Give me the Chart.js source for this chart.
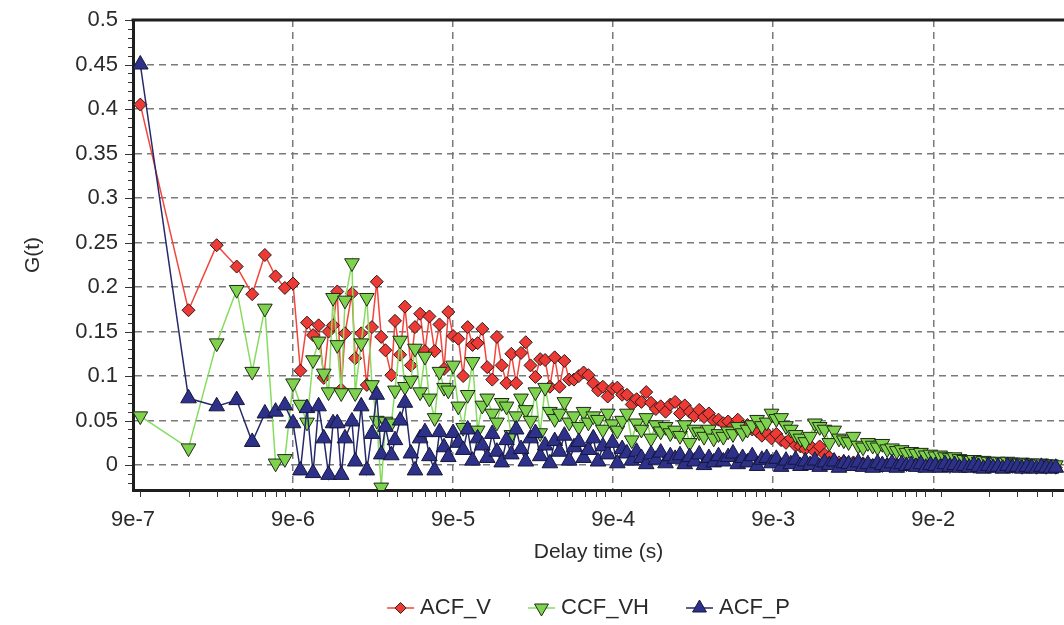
<!DOCTYPE html>
<html>
<head>
<meta charset="utf-8">
<title>G(t) vs delay time</title>
<script src="https://cdn.jsdelivr.net/npm/chart.js@4/dist/chart.umd.min.js"></script>
<style>
  html, body { margin: 0; padding: 0; background: #fff; overflow: hidden; }
  canvas { display: block; }
</style>
</head>
<body>
<canvas id="gt-chart" width="1064" height="625"></canvas>
<script>
// Correlation curves (multi-tau style lag grid)

// delay times in microseconds
const delayUs = [
    1, 2, 3, 4, 5, 6, 7, 8, 9, 10, 11, 12, 13, 14, 15, 16,
    17, 18, 19, 21, 22, 24, 26, 28, 30, 32,
    34, 37, 39, 42, 45, 49, 52, 56, 60, 64,
    69, 74, 79, 84, 90, 97, 104, 111, 119, 128,
    137, 147, 158, 169, 181, 194, 208, 223, 239, 256,
    274, 294, 315, 338, 362, 388, 416, 446, 478, 512,
    549, 588, 630, 676, 724, 776, 832, 891, 955, 1024,
    1097, 1176, 1261, 1351, 1448, 1552, 1663, 1783, 1911, 2048,
    2195, 2353, 2521, 2702, 2896, 3104, 3327, 3566, 3822, 4096,
    4390, 4705, 5043, 5405, 5793, 6208, 6654, 7132, 7643, 8192,
    8780, 9410, 10086, 10810, 11585, 12417, 13308, 14263, 15287, 16384,
    17560, 18820, 20171, 21619, 23170, 24834, 26616, 28526, 30574, 32768,
    35120, 37641, 40342, 43238, 46341, 49667, 53232, 57052, 61147, 65536,
    70240, 75281, 80684, 86475, 92681, 99334, 106464, 114104, 122294, 131072,
    140480, 150562, 161369, 172951, 185363, 198668, 212927, 228209, 244589, 262144,
    280960, 301124, 322738, 345901, 370727, 397336, 425854, 456419, 489178, 524288
];

const acfV = [
    0.405, 0.174, 0.247, 0.223, 0.192, 0.236, 0.212, 0.199, 0.204, 0.106, 0.160, 0.146, 0.157, 0.098, 0.150, 0.157,
    0.195, 0.085, 0.148, 0.193, 0.120, 0.148, 0.090, 0.155, 0.206, 0.144,
    0.129, 0.101, 0.162, 0.124, 0.178, 0.112, 0.155, 0.170, 0.128, 0.167,
    0.128, 0.158, 0.108, 0.172, 0.145, 0.142, 0.100, 0.155, 0.135, 0.137,
    0.153, 0.110, 0.096, 0.144, 0.112, 0.092, 0.125, 0.092, 0.126, 0.138,
    0.112, 0.099, 0.119, 0.118, 0.088, 0.121, 0.088, 0.117, 0.096, 0.096,
    0.100, 0.104, 0.101, 0.092, 0.084, 0.088, 0.077, 0.086, 0.087, 0.079,
    0.079, 0.068, 0.074, 0.071, 0.082, 0.070, 0.063, 0.066, 0.060, 0.068,
    0.071, 0.058, 0.067, 0.060, 0.055, 0.062, 0.054, 0.058, 0.050, 0.051,
    0.047, 0.049, 0.044, 0.051, 0.043, 0.045, 0.040, 0.038, 0.033, 0.036,
    0.030, 0.035, 0.028, 0.025, 0.030, 0.022, 0.021, 0.018, 0.022, 0.015,
    0.021, 0.012, 0.009, 0.005, 0.003, 0.004, 0.002, 0.003, 0.001, 0.002,
    0.001, 0.000, 0.002, -0.001, 0.001, 0.000, 0.001, -0.001, 0.000, 0.001,
    0.000, -0.001, 0.001, 0.000, -0.001, 0.000, 0.001, -0.002, 0.000, -0.001,
    -0.001, 0.000, -0.002, -0.001, 0.000, -0.002, -0.001, -0.002, -0.001, -0.002,
    -0.002, -0.001, -0.003, -0.002, -0.002, -0.003, -0.002, -0.003, -0.002, -0.003
];

const ccfVH = [
    0.055, 0.019, 0.137, 0.197, 0.105, 0.176, 0.002, 0.007, 0.092, 0.068, 0.048, 0.118, 0.139, 0.103, 0.082, 0.188,
    0.135, 0.081, 0.185, 0.227, 0.081, 0.137, 0.188, 0.090, 0.050, -0.025,
    0.049, 0.047, 0.084, 0.140, 0.088, 0.095, 0.131, 0.082, 0.122, 0.075,
    0.053, 0.105, 0.087, 0.084, 0.112, 0.066, 0.042, 0.079, 0.116, 0.039,
    0.067, 0.075, 0.058, 0.048, 0.070, 0.066, 0.034, 0.055, 0.075, 0.062,
    0.050, 0.082, 0.036, 0.087, 0.060, 0.052, 0.058, 0.071, 0.048, 0.055,
    0.043, 0.060, 0.048, 0.055, 0.051, 0.040, 0.058, 0.046, 0.039, 0.050,
    0.058, 0.028, 0.047, 0.040, 0.053, 0.030, 0.045, 0.038, 0.043, 0.036,
    0.039, 0.033, 0.045, 0.025, 0.040, 0.037, 0.032, 0.040, 0.030, 0.035,
    0.032, 0.038, 0.035, 0.043, 0.036, 0.040, 0.045, 0.051, 0.044, 0.048,
    0.058, 0.052, 0.053, 0.044, 0.040, 0.034, 0.030, 0.026, 0.032, 0.047,
    0.043, 0.040, 0.025, 0.039, 0.030, 0.028, 0.026, 0.032, 0.022, 0.020,
    0.025, 0.022, 0.020, 0.024, 0.018, 0.019, 0.016, 0.017, 0.014, 0.015,
    0.013, 0.014, 0.011, 0.012, 0.010, 0.011, 0.009, 0.008, 0.009, 0.007,
    0.006, 0.005, 0.006, 0.004, 0.005, 0.004, 0.003, 0.004, 0.003, 0.004,
    0.003, 0.002, 0.003, 0.002, 0.002, 0.001, 0.002, 0.001, 0.001, 0.000
];

const acfP = [
    0.450, 0.075, 0.066, 0.073, 0.026, 0.058, 0.060, 0.067, 0.047, -0.006, 0.064, -0.009, 0.066, 0.030, -0.011, 0.047,
    0.047, -0.011, 0.030, 0.049, 0.004, 0.066, -0.006, 0.035, 0.079, 0.012,
    0.043, 0.011, 0.028, 0.050, 0.070, 0.013, -0.006, 0.030, 0.037, 0.010,
    -0.006, 0.037, 0.020, 0.009, 0.036, 0.025, 0.017, 0.040, 0.005, 0.030,
    0.022, 0.008, 0.035, 0.015, 0.003, 0.028, 0.012, 0.040, 0.018, 0.004,
    0.030, 0.036, 0.010, 0.022, 0.002, 0.027, 0.015, 0.033, 0.005, 0.020,
    0.026, 0.008, 0.017, 0.030, 0.004, 0.021, 0.012, 0.025, 0.002, 0.018,
    0.013, 0.005, 0.015, 0.008, 0.001, 0.012, 0.006, 0.014, 0.002, 0.010,
    0.007, 0.011, 0.001, 0.009, 0.004, 0.012, 0.000, 0.008, 0.003, 0.010,
    0.004, 0.009, 0.013, 0.001, 0.008, 0.003, 0.010, -0.001, 0.006, 0.008,
    0.002, 0.007, -0.002, 0.005, 0.001, 0.006, -0.001, 0.004, 0.000, 0.005,
    -0.002, 0.003, 0.000, 0.004, -0.003, 0.002, 0.001, -0.001, 0.003, -0.002,
    0.001, -0.003, 0.002, 0.000, -0.002, 0.002, -0.003, 0.001, -0.001, 0.000,
    -0.002, 0.001, -0.003, 0.000, -0.001, -0.003, 0.001, -0.002, 0.000, -0.003,
    -0.001, -0.003, 0.000, -0.002, -0.004, -0.001, -0.003, -0.002, -0.004, -0.001,
    -0.003, -0.002, -0.004, -0.002, -0.003, -0.004, -0.002, -0.003, -0.004, -0.003
];

// axis ticks
const xTickValues = [9e-7, 9e-6, 9e-5, 9e-4, 9e-3, 9e-2];
const xTickLabels = ['9e-7', '9e-6', '9e-5', '9e-4', '9e-3', '9e-2'];
const yTickValues = [0, 0.05, 0.1, 0.15, 0.2, 0.25, 0.3, 0.35, 0.4, 0.45, 0.5];
const yTickLabels = ['0', '0.05', '0.1', '0.15', '0.2', '0.25', '0.3', '0.35', '0.4', '0.45', '0.5'];

const delaySeconds = delayUs.map(t => t * 1e-6);   // µs -> s

const FONT = '"Liberation Sans", Arial, sans-serif';
const FRAME = '#1f1f1f';
const TEXT = '#2a2a2a';

// top edge of the plot box + small minor ticks along both axes
const framePlugin = {
    id: 'frame',
    afterDraw(chart) {
        const {ctx, chartArea: a, scales: {x, y}} = chart;
        ctx.save();
        ctx.strokeStyle = FRAME;
        ctx.lineWidth = 3;
        ctx.beginPath();
        ctx.moveTo(a.left - 1.5, a.top);
        ctx.lineTo(a.right, a.top);
        ctx.stroke();

        ctx.lineWidth = 1;
        ctx.strokeStyle = '#333';
        ctx.beginPath();
        for (let e = -7; e <= -1; e++) {
            for (let m = 1; m <= 8; m++) {
                const v = m * Math.pow(10, e);
                if (v <= x.min || v >= x.max) continue;
                const px = Math.round(x.getPixelForValue(v)) + 0.5;
                ctx.moveTo(px, a.bottom + 1);
                ctx.lineTo(px, a.bottom + 7);
            }
        }
        for (let k = -2; k <= 50; k++) {
            const py = Math.round(y.getPixelForValue(k / 100)) + 0.5;
            const len = k % 5 === 0 ? 7 : 4;
            ctx.moveTo(a.left - 1, py);
            ctx.lineTo(a.left - 1 - len, py);
        }
        ctx.stroke();
        ctx.restore();
    }
};

function marker(ctx, style, rotation, r, cx, cy) {
    ctx.beginPath();
    if (style === 'rectRot') {
        ctx.moveTo(cx, cy - r);
        ctx.lineTo(cx + r, cy);
        ctx.lineTo(cx, cy + r);
        ctx.lineTo(cx - r, cy);
    } else {
        const s = rotation === 180 ? -1 : 1;
        ctx.moveTo(cx, cy - s * r);
        ctx.lineTo(cx + r * 0.866, cy + s * r * 0.5);
        ctx.lineTo(cx - r * 0.866, cy + s * r * 0.5);
    }
    ctx.closePath();
    ctx.fill();
    ctx.stroke();
}

// legend below the axis title: short line with the marker on it, then the name
const legendPlugin = {
    id: 'lineLegend',
    afterDraw(chart) {
        const ctx = chart.ctx;
        const y = 608;
        const gap = 38;
        ctx.save();
        ctx.font = '22px ' + FONT;
        ctx.textBaseline = 'middle';
        const items = chart.data.datasets.map(ds => ({ds, w: 32 + ctx.measureText(ds.label).width}));
        const total = items.reduce((s, it) => s + it.w, 0) + gap * (items.length - 1);
        let x = 588 - total / 2;
        items.forEach(it => {
            const ds = it.ds;
            ctx.strokeStyle = ds.borderColor;
            ctx.lineWidth = 1.5;
            ctx.beginPath();
            ctx.moveTo(x, y);
            ctx.lineTo(x + 27, y);
            ctx.stroke();
            ctx.fillStyle = ds.pointBackgroundColor;
            ctx.strokeStyle = ds.pointBorderColor;
            ctx.lineWidth = 1;
            marker(ctx, ds.pointStyle, ds.pointRotation, ds.pointStyle === 'rectRot' ? 5.5 : 8, x + 13.5, y);
            ctx.fillStyle = TEXT;
            ctx.fillText(ds.label, x + 33, y);
            x += it.w + gap;
        });
        ctx.restore();
    }
};

const ctx = document.getElementById('gt-chart');
const chart = new Chart(ctx, {
    type: 'line',
    data: {
        labels: delaySeconds,
        datasets: [
            {
                label: 'ACF_V',
                data: acfV,
                borderColor: '#f2453c',
                borderWidth: 1.5,
                pointStyle: 'rectRot',
                pointRotation: 0,
                pointRadius: 6.5,
                pointBackgroundColor: '#ee3a34',
                pointBorderColor: '#2a1a1a',
                pointBorderWidth: 1,
                order: 2
            },
            {
                label: 'CCF_VH',
                data: ccfVH,
                borderColor: '#86dc5e',
                borderWidth: 1.5,
                pointStyle: 'triangle',
                pointRotation: 180,
                pointRadius: 8.5,
                pointBackgroundColor: '#7ed24e',
                pointBorderColor: '#1e2a16',
                pointBorderWidth: 1,
                order: 1
            },
            {
                label: 'ACF_P',
                data: acfP,
                borderColor: '#26296a',
                borderWidth: 1.5,
                pointStyle: 'triangle',
                pointRotation: 0,
                pointRadius: 9,
                pointBackgroundColor: '#2d3189',
                pointBorderColor: '#15163a',
                pointBorderWidth: 1,
                order: 0
            }
        ]
    },
    options: {
        responsive: false,
        animation: false,
        devicePixelRatio: 1,
        layout: { autoPadding: false, padding: { left: 17, top: 20, right: 0, bottom: 59 } },
        plugins: {
            legend: { display: false },
            tooltip: { enabled: false }
        },
        elements: { line: { tension: 0 } },
        scales: {
            x: {
                type: 'logarithmic',
                min: 9e-7,
                max: 0.59,
                afterBuildTicks: s => { s.ticks = xTickValues.map(v => ({value: v})); },
                afterFit: s => {
                    s.height = 76;
                    s.paddingLeft = 0;
                    s.paddingRight = 0;
                },
                ticks: {
                    autoSkip: false,
                    maxRotation: 0,
                    padding: 17,
                    color: TEXT,
                    font: { family: FONT, size: 22 },
                    callback: (v, i) => xTickLabels[i]
                },
                grid: { color: '#7a7a7a', lineWidth: 1.5, drawTicks: false },
                border: { display: true, color: FRAME, width: 3, dash: [7, 5] },
                title: {
                    display: true,
                    text: 'Delay time (s)',
                    color: TEXT,
                    font: { family: FONT, size: 21 },
                    padding: { top: 9, bottom: 1 }
                }
            },
            y: {
                min: -0.028,
                max: 0.5,
                afterBuildTicks: s => { s.ticks = yTickValues.map(v => ({value: v})); },
                afterFit: s => {
                    s.width = 116;
                    s.paddingTop = 0;
                    s.paddingBottom = 0;
                },
                ticks: {
                    padding: 15,
                    color: TEXT,
                    font: { family: FONT, size: 22 },
                    callback: (v, i) => yTickLabels[i]
                },
                grid: { color: '#7a7a7a', lineWidth: 1.5, drawTicks: false },
                border: { display: true, color: FRAME, width: 3, dash: [7, 5] },
                title: {
                    display: true,
                    text: 'G(t)',
                    color: TEXT,
                    font: { family: FONT, size: 21 },
                    padding: { top: 4, bottom: 34 }
                }
            }
        }
    },
    plugins: [framePlugin, legendPlugin]
});
</script>
</body>
</html>
